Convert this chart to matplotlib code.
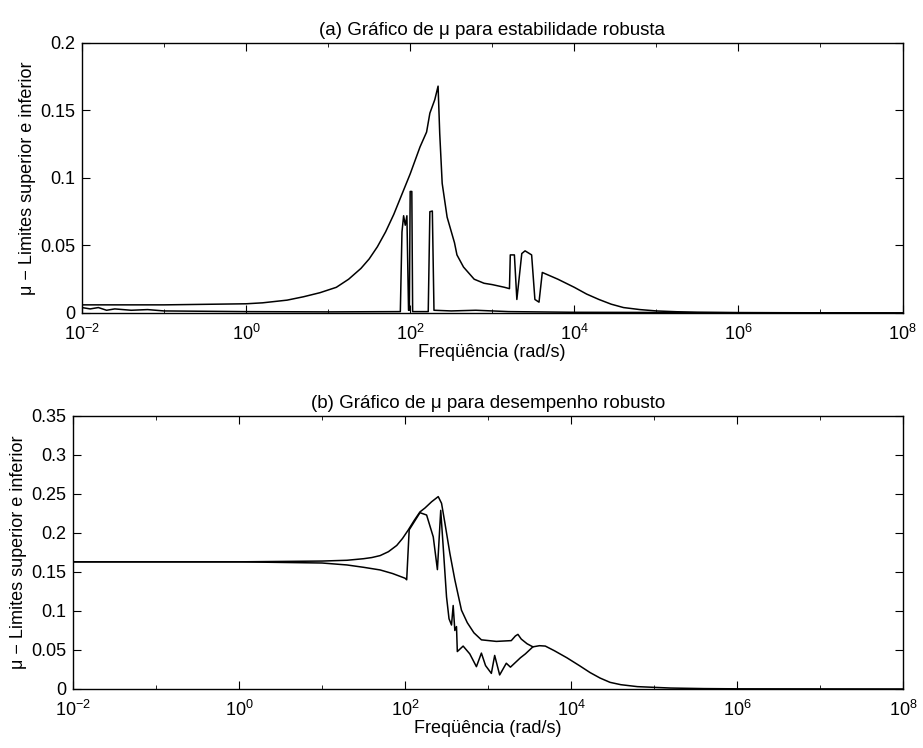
import numpy as np
import matplotlib
matplotlib.use('Agg')
import matplotlib.pyplot as plt
from matplotlib.ticker import FixedLocator, NullFormatter, LogFormatterSciNotation

plt.rcParams['font.family'] = ['Liberation Sans', 'DejaVu Sans']
plt.rcParams['mathtext.fontset'] = 'custom'
plt.rcParams['mathtext.rm'] = 'Liberation Sans'
plt.rcParams['mathtext.it'] = 'Liberation Sans:italic'
plt.rcParams['font.size'] = 13


## Data (frequency as log10 exponent) ##

# (a) robust stability - upper bound
a_up_exp = [-2.0, -1.0, 0.0, 0.2, 0.5, 0.7, 0.9, 1.1, 1.25, 1.4, 1.5, 1.6, 1.7, 1.8, 1.9, 2.0,
            2.06, 2.12, 2.2, 2.24, 2.3, 2.34, 2.36, 2.39, 2.45, 2.54, 2.57, 2.65, 2.78, 2.9,
            3.0, 3.15, 3.21, 3.22, 3.27, 3.3, 3.36, 3.4, 3.48, 3.52, 3.57, 3.61, 3.8, 4.0,
            4.15, 4.3, 4.45, 4.6, 4.8, 5.0, 5.25, 5.5, 6.0, 8.0]
a_up_val = [0.006, 0.006, 0.0068, 0.0075, 0.0095, 0.012, 0.015, 0.019, 0.025, 0.033, 0.040,
            0.049, 0.060, 0.073, 0.088, 0.103, 0.113, 0.123, 0.134, 0.148, 0.158, 0.168,
            0.133, 0.096, 0.071, 0.052, 0.043, 0.034, 0.025, 0.022, 0.021, 0.019, 0.018,
            0.043, 0.043, 0.010, 0.044, 0.046, 0.043, 0.010, 0.008, 0.030, 0.025, 0.019,
            0.014, 0.010, 0.0065, 0.004, 0.0025, 0.0015, 0.0009, 0.0005, 0.0002, 0.0]

# (a) robust stability - lower bound
a_lo_exp = [-2.0, -1.9, -1.8, -1.7, -1.6, -1.4, -1.2, -1.0, 0.0, 1.0, 1.88, 1.9, 1.92, 1.94,
            1.96, 1.98, 1.99, 2.0, 2.02, 2.03, 2.22, 2.24, 2.27, 2.29, 2.5, 2.8, 3.2, 4.0, 8.0]
a_lo_val = [0.004, 0.003, 0.004, 0.002, 0.003, 0.002, 0.0025, 0.0015, 0.001, 0.0008, 0.001,
            0.060, 0.072, 0.065, 0.072, 0.002, 0.002, 0.090, 0.090, 0.001, 0.001, 0.075, 0.0755,
            0.002, 0.0015, 0.002, 0.001, 0.0005, 0.0]

# (b) robust performance - upper bound
b_up_exp = [-2.0, 0.0, 1.0, 1.3, 1.5, 1.6, 1.7, 1.8, 1.9, 1.97, 2.04, 2.11, 2.18, 2.24, 2.32,
            2.4, 2.44, 2.48, 2.54, 2.6, 2.68, 2.75, 2.83, 2.92, 3.1, 3.28, 3.33, 3.36, 3.4,
            3.47, 3.54, 3.62, 3.69, 3.8, 3.95, 4.1, 4.23, 4.35, 4.47, 4.6, 4.8, 5.2, 5.6,
            6.0, 8.0]
b_up_val = [0.163, 0.163, 0.164, 0.165, 0.167, 0.1685, 0.171, 0.176, 0.184, 0.193, 0.204,
            0.216, 0.227, 0.232, 0.240, 0.2466, 0.238, 0.213, 0.174, 0.140, 0.101, 0.085,
            0.072, 0.063, 0.061, 0.062, 0.068, 0.070, 0.064, 0.058, 0.054, 0.0555, 0.055,
            0.049, 0.040, 0.030, 0.021, 0.014, 0.0085, 0.0055, 0.003, 0.0012, 0.0005,
            0.0002, 0.0]

# (b) robust performance - lower bound
b_lo_exp = [-2.0, 0.0, 1.0, 1.3, 1.5, 1.7, 1.85, 2.0, 2.02, 2.05, 2.18, 2.26, 2.34, 2.39, 2.43,
            2.46, 2.5, 2.53, 2.56, 2.58, 2.6, 2.62, 2.63, 2.7, 2.78, 2.86, 2.92, 2.97, 3.04,
            3.08, 3.14, 3.22, 3.27, 3.3, 3.39, 3.45, 3.54]
b_lo_val = [0.163, 0.163, 0.1615, 0.159, 0.156, 0.1526, 0.148, 0.142, 0.140, 0.204, 0.226,
            0.223, 0.195, 0.153, 0.229, 0.182, 0.118, 0.090, 0.082, 0.107, 0.075, 0.080,
            0.048, 0.055, 0.045, 0.0286, 0.046, 0.030, 0.020, 0.043, 0.018, 0.033, 0.028,
            0.031, 0.040, 0.045, 0.054]

a_yticks = [0, 0.05, 0.1, 0.15, 0.2]
a_ylabels = ['0', '0.05', '0.1', '0.15', '0.2']
b_yticks = [0, 0.05, 0.1, 0.15, 0.2, 0.25, 0.3, 0.35]
b_ylabels = ['0', '0.05', '0.1', '0.15', '0.2', '0.25', '0.3', '0.35']

titles = ['(a) Gráfico de \u03bc para estabilidade robusta',
          '(b) Gráfico de \u03bc para desempenho robusto']
ylabel = '\u03bc \u2212 Limites superior e inferior'
xlabel = 'Freqüência (rad/s)'


def style_axis(ax, yticks, ylabels, title):
    ax.set_xscale('log')
    ax.set_xlim(1e-2, 1e8)
    ax.xaxis.set_major_locator(FixedLocator([10.0 ** e for e in range(-2, 9, 2)]))
    ax.xaxis.set_major_formatter(LogFormatterSciNotation())
    ax.xaxis.set_minor_locator(FixedLocator([10.0 ** e for e in range(-1, 8, 2)]))
    ax.xaxis.set_minor_formatter(NullFormatter())
    ax.set_ylim(yticks[0], yticks[-1])
    ax.set_yticks(yticks)
    ax.set_yticklabels(ylabels)
    ax.tick_params(which = 'both', direction = 'in', top = True, right = True)
    ax.tick_params(which = 'major', length = 6)
    ax.tick_params(which = 'minor', length = 3)
    ax.tick_params(axis = 'x', pad = 8)
    ax.tick_params(axis = 'y', pad = 5)
    for s in ax.spines.values():
        s.set_linewidth(1.0)
    ax.set_title(title, fontsize = 13.5, pad = 6)
    ax.set_xlabel(xlabel, labelpad = 0)
    ax.set_ylabel(ylabel, labelpad = 3)


fig = plt.figure(figsize = (9.23, 7.48), dpi = 100)

ax1 = fig.add_axes([0.0888, 0.5816, 0.889, 0.361])
ax1.plot(10.0 ** np.array(a_up_exp), a_up_val, 'k-', linewidth = 1.1)
ax1.plot(10.0 ** np.array(a_lo_exp), a_lo_val, 'k-', linewidth = 1.1)
style_axis(ax1, a_yticks, a_ylabels, titles[0])

ax2 = fig.add_axes([0.0791, 0.0789, 0.8993, 0.365])
ax2.plot(10.0 ** np.array(b_up_exp), b_up_val, 'k-', linewidth = 1.1)
ax2.plot(10.0 ** np.array(b_lo_exp), b_lo_val, 'k-', linewidth = 1.1)
style_axis(ax2, b_yticks, b_ylabels, titles[1])

fig.savefig('out.png', dpi = 100)
